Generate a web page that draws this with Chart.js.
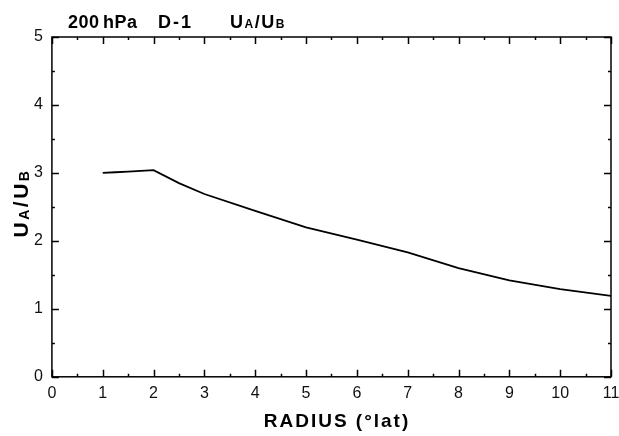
<!DOCTYPE html>
<html>
<head>
<meta charset="utf-8">
<script src="https://cdn.jsdelivr.net/npm/chart.js@4"></script>
<style>
  html, body { margin: 0; padding: 0; background: #fff; }
  #wrap { width: 619px; height: 436px; }
</style>
</head>
<body>
<div id="wrap"><canvas id="ratioChart" width="619" height="436"></canvas></div>
<script>
// данные
const radius = [1, 1.25, 1.5, 2, 2.5, 3, 4, 5, 6, 7, 8, 9, 10, 11];
const ratio = [3.0, 3.01, 3.02, 3.04, 2.85, 2.69, 2.44, 2.2, 2.02, 1.83, 1.6, 1.42, 1.29, 1.19];
const xTicks = [0, 1, 2, 3, 4, 5, 6, 7, 8, 9, 10, 11];
const yTicks = [0, 1, 2, 3, 4, 5];

const FAMILY = '"Liberation Sans", Arial, sans-serif';

// текст с мелкими буквами-индексами
function drawParts(ctx, parts, x, y) {
    let cx = x;
    parts.forEach(p => {
        ctx.font = p[1];
        ctx.fillText(p[0], cx, y + (p[2] || 0));
        cx += ctx.measureText(p[0]).width;
    });
}
function partsWidth(ctx, parts) {
    let w = 0;
    parts.forEach(p => { ctx.font = p[1]; w += ctx.measureText(p[0]).width; });
    return w;
}

// рамка, внутренние засечки и подписи
const framePlugin = {
    id: 'frame',
    afterDraw(chart) {
        const { ctx, chartArea: a, scales: { x, y } } = chart;
        ctx.save();
        ctx.strokeStyle = '#000';
        ctx.fillStyle = '#000';
        ctx.lineWidth = 1.5;
        ctx.strokeRect(a.left, a.top, a.right - a.left, a.bottom - a.top);

        ctx.beginPath();
        for (let v = xTicks[0]; v <= xTicks[xTicks.length - 1]; v += 0.5) {
            const px = Math.round(x.getPixelForValue(v)) + 0.5;
            const len = v % 1 ? 3 : 7;
            ctx.moveTo(px, a.bottom); ctx.lineTo(px, a.bottom - len);
            ctx.moveTo(px, a.top); ctx.lineTo(px, a.top + len);
        }
        for (let v = yTicks[0]; v <= yTicks[yTicks.length - 1]; v += 0.5) {
            const py = Math.round(y.getPixelForValue(v)) + 0.5;
            const len = v % 1 ? 3 : 7;
            ctx.moveTo(a.left, py); ctx.lineTo(a.left + len, py);
            ctx.moveTo(a.right, py); ctx.lineTo(a.right - len, py);
        }
        ctx.stroke();

        ctx.textBaseline = 'alphabetic';
        ctx.textAlign = 'left';
        // заголовок
        const big = 'bold 18px ' + FAMILY;
        const small = 'bold 12px ' + FAMILY;
        ctx.letterSpacing = '0.5px';
        drawParts(ctx, [['200', big]], 68, 28);
        drawParts(ctx, [['hPa', big]], 103, 28);
        ctx.letterSpacing = '2px';
        drawParts(ctx, [['D-1', big]], 158, 28);
        ctx.letterSpacing = '1.5px';
        drawParts(ctx, [['U', big], ['A', small], ['/U', big], ['B', small]], 230, 28);

        // подпись оси X
        ctx.font = 'bold 19px ' + FAMILY;
        ctx.letterSpacing = '2px';
        ctx.textAlign = 'center';
        ctx.fillText('RADIUS (\u00b0lat)', 337, 427);

        // подпись оси Y
        const yBig = 'bold 21px ' + FAMILY;
        const ySmall = 'bold 14px ' + FAMILY;
        const yParts = [['U', yBig], ['A', ySmall, 1], ['/U', yBig], ['B', ySmall, 1]];
        ctx.textAlign = 'left';
        ctx.letterSpacing = '2.5px';
        const w = partsWidth(ctx, yParts);
        ctx.translate(28, 203);
        ctx.rotate(-Math.PI / 2);
        drawParts(ctx, yParts, -w / 2, 0);
        ctx.restore();
    }
};

// убираем автоматические отступы под крайние подписи
function noEdgePadding(scale) {
    scale.paddingLeft = 0;
    scale.paddingRight = 0;
    scale.paddingTop = 0;
    scale.paddingBottom = 0;
}

document.addEventListener('DOMContentLoaded', function() {
    const ctx = document.getElementById('ratioChart').getContext('2d');
    new Chart(ctx, {
        type: 'line',
        data: {
            datasets: [{
                data: radius.map((r, i) => ({ x: r, y: ratio[i] })),
                borderColor: '#000',
                borderWidth: 1.8,
                pointRadius: 0,
                fill: false,
                tension: 0
            }]
        },
        options: {
            responsive: false,
            animation: false,
            layout: { padding: { left: 25, right: 8, top: 37, bottom: 26 } },
            plugins: { legend: { display: false }, tooltip: { enabled: false } },
            scales: {
                x: {
                    type: 'linear',
                    min: 0, max: 11,
                    afterBuildTicks: s => { s.ticks = xTicks.map(v => ({ value: v })); },
                    afterFit: noEdgePadding,
                    grid: { display: false, drawTicks: false },
                    border: { display: false },
                    ticks: {
                        padding: 7,
                        color: '#111',
                        font: { family: FAMILY, size: 16 }
                    }
                },
                y: {
                    type: 'linear',
                    min: 0, max: 5,
                    afterBuildTicks: s => { s.ticks = yTicks.map(v => ({ value: v })); },
                    afterFit: noEdgePadding,
                    grid: { display: false, drawTicks: false },
                    border: { display: false },
                    ticks: {
                        padding: 9,
                        color: '#111',
                        font: { family: FAMILY, size: 16 }
                    }
                }
            }
        },
        plugins: [framePlugin]
    });
});
</script>
</body>
</html>
